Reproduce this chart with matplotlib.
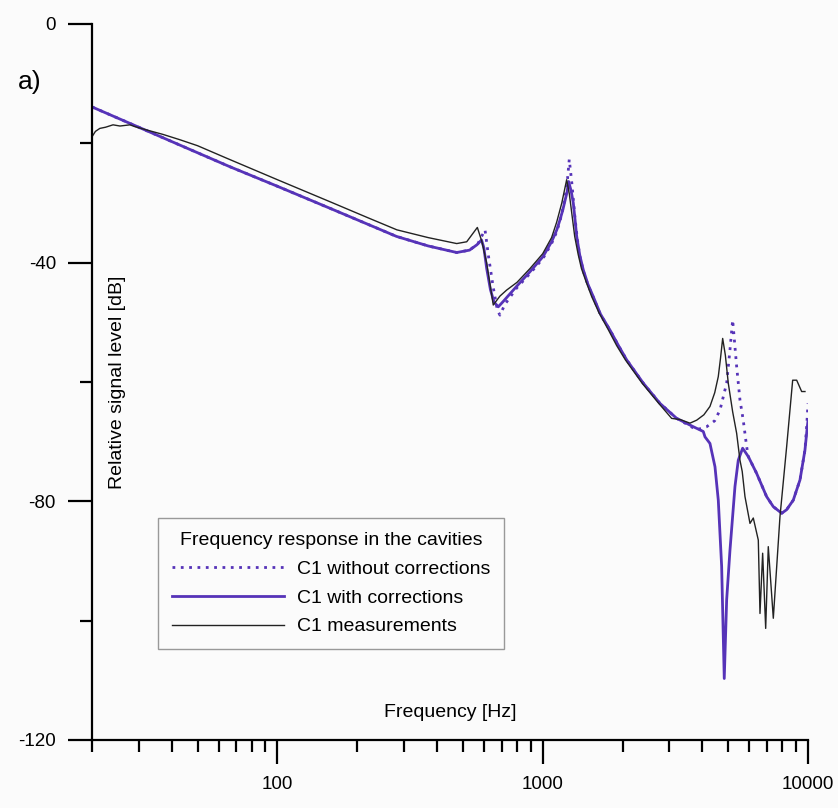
import matplotlib
matplotlib.use("Agg")
import matplotlib.pyplot as plt
from matplotlib.ticker import FixedLocator, NullFormatter

plt.rcParams["font.family"] = ["Liberation Sans", "DejaVu Sans"]

# C1 with corrections (solid)
f_corr = [20, 30, 45, 66, 100, 158, 220, 281, 370, 474, 530, 565, 588, 600, 615, 635, 655, 680,
          710, 750, 796, 896, 1002, 1080, 1130, 1162, 1190, 1215, 1235, 1252, 1280, 1304, 1324,
          1343, 1380, 1422, 1480, 1551, 1650, 1793, 1930, 2073, 2394, 2768, 3199, 3696, 4030,
          4090, 4270, 4460, 4590, 4726, 4834, 4936, 5080, 5306, 5460, 5670, 5956, 6400, 6980,
          7400, 7960, 8310, 8800, 9330, 9740, 9940, 10000]
db_corr = [-13.9, -17.3, -20.7, -23.9, -27.2, -30.9, -33.6, -35.6, -37.2, -38.3, -37.9, -37.0,
           -36.2, -37.5, -41.0, -44.5, -46.6, -47.4, -46.5, -45.3, -44.0, -41.5, -39.0, -36.5,
           -34.5, -32.8, -31.2, -29.5, -28.2, -26.4, -28.0, -30.0, -32.8, -35.6, -38.8, -41.2,
           -43.6, -45.7, -48.6, -51.3, -53.9, -56.3, -60.2, -63.6, -66.1, -67.5, -68.3, -69.2,
           -70.3, -74.2, -79.8, -90.9, -109.7, -96.5, -88.2, -77.5, -73.1, -71.1, -72.5, -75.3,
           -79.2, -80.9, -82.0, -81.4, -79.8, -76.4, -71.4, -67.5, -66.5]

# C1 without corrections (dotted)
f_nocorr = [20, 30, 45, 66, 100, 158, 220, 281, 370, 474, 530, 570, 606, 625, 650, 675, 690,
            720, 796, 896, 1002, 1080, 1130, 1162, 1190, 1215, 1240, 1259, 1290, 1320, 1350,
            1380, 1422, 1480, 1551, 1650, 1793, 1930, 2073, 2394, 2768, 3199, 3696, 3806, 4150,
            4450, 4658, 4936, 5080, 5200, 5383, 5540, 5700, 5870, 5956, 6400, 6980, 7400, 7960,
            8310, 8800, 9330, 9740, 9900, 10000]
db_nocorr = [-13.9, -17.3, -20.7, -23.9, -27.2, -30.9, -33.6, -35.6, -37.2, -38.3, -37.9, -36.8,
             -34.5, -39.0, -44.0, -48.0, -48.8, -47.0, -44.3, -41.8, -39.3, -36.8, -34.8, -33.0,
             -31.0, -29.0, -26.0, -22.7, -27.0, -32.0, -36.0, -38.9, -41.4, -43.7, -45.8, -48.7,
             -51.3, -53.9, -56.3, -60.2, -63.6, -66.1, -67.7, -68.0, -67.5, -66.5, -64.7, -60.2,
             -54.6, -49.6, -57.4, -63.0, -66.4, -70.8, -72.5, -75.3, -79.2, -80.9, -82.0, -81.4,
             -79.8, -76.4, -71.4, -67.0, -63.6]

# C1 measurements (thin black)
f_meas = [20, 20.6, 21.4, 22.5, 24.0, 25.5, 27.8, 29.0, 33, 37, 42.9, 50, 64.4, 100, 158, 220,
          282, 370, 474, 517, 567, 590, 615, 651, 690, 731, 800, 895, 1000, 1080, 1129, 1180,
          1231, 1260, 1285, 1320, 1360, 1400, 1460, 1530, 1630, 1770, 1900, 2050, 2370, 2740,
          3062, 3300, 3590, 3806, 4050, 4270, 4450, 4590, 4680, 4768, 4880, 5006, 5200, 5383,
          5540, 5650, 5786, 6044, 6220, 6496, 6592, 6746, 6926, 7084, 7400, 7840, 8310, 8754,
          9064, 9464, 9740]
db_meas = [-18.9, -18.0, -17.5, -17.3, -16.9, -17.1, -16.9, -17.2, -17.9, -18.5, -19.4, -20.4,
           -22.5, -26.1, -29.8, -32.5, -34.5, -35.8, -36.8, -36.5, -34.1, -36.5, -40.1, -47.1,
           -45.6, -44.6, -43.3, -41.0, -38.5, -35.8, -33.2, -30.0, -26.1, -28.5, -31.5, -35.6,
           -38.6, -41.0, -43.3, -45.7, -48.4, -51.3, -53.9, -56.3, -60.2, -63.6, -66.1, -66.3,
           -66.9, -66.4, -65.5, -64.1, -61.8, -59.1, -56.0, -52.7, -55.5, -60.2, -65.0, -68.6,
           -73.1, -75.0, -79.2, -83.7, -82.8, -86.5, -98.8, -88.7, -101.3, -87.6, -99.6, -82.6,
           -70.8, -59.7, -59.7, -61.6, -61.6]

x_major = [100, 1000, 10000]
x_minor = [20, 30, 40, 50, 60, 70, 80, 90, 200, 300, 400, 500, 600, 700, 800, 900,
           2000, 3000, 4000, 5000, 6000, 7000, 8000, 9000]
y_major = [0, -40, -80, -120]
y_minor = [-20, -60, -100]

purple = "#5633b8"
bg = "#fbfbfb"

fig = plt.figure(figsize=(8.38, 8.08), dpi=100, facecolor=bg)
ax = fig.add_axes([0.1098, 0.0842, 0.8544, 0.8861], facecolor=bg)

ax.plot(f_nocorr, db_nocorr, color=purple, lw=2.0, linestyle=(0, (1, 2)),
        label="C1 without corrections")
ax.plot(f_corr, db_corr, color=purple, lw=2.0, label="C1 with corrections")
ax.plot(f_meas, db_meas, color="#222222", lw=1.0, label="C1 measurements")

ax.set_xscale("log")
ax.set_xlim(20, 10000)
ax.set_ylim(-120, 0)

ax.spines["top"].set_visible(False)
ax.spines["right"].set_visible(False)
ax.spines["left"].set_linewidth(1.6)
ax.spines["bottom"].set_linewidth(1.6)

ax.xaxis.set_major_locator(FixedLocator(x_major))
ax.xaxis.set_minor_locator(FixedLocator(x_minor))
ax.xaxis.set_minor_formatter(NullFormatter())
ax.set_xticklabels([str(v) for v in x_major])
ax.yaxis.set_major_locator(FixedLocator(y_major))
ax.yaxis.set_minor_locator(FixedLocator(y_minor))
ax.set_yticklabels([str(v) for v in y_major])

ax.tick_params(axis="both", which="major", direction="out", length=17, width=1.6,
               labelsize=13.5, pad=9, color="black")
ax.tick_params(axis="both", which="minor", direction="out", length=8.5, width=1.6)

ax.text(0.5, 0.038, "Frequency [Hz]", transform=ax.transAxes, ha="center", va="center",
        fontsize=14)
ax.text(0.036, 0.5, "Relative signal level [dB]", transform=ax.transAxes, rotation=90,
        ha="center", va="center", fontsize=14)
fig.text(0.021, 1 - 82 / 808, "a)", fontsize=19, ha="left", va="center")

leg = ax.legend(title="Frequency response in the cavities", loc="lower left",
                bbox_to_anchor=(0.0922, 0.127), borderaxespad=0, fontsize=14,
                title_fontsize=14, handlelength=5.8, handletextpad=0.65,
                labelspacing=0.58, borderpad=0.7, fancybox=False, framealpha=1)
leg.get_frame().set_edgecolor("#999999")
leg.get_frame().set_linewidth(1.0)
leg.get_frame().set_facecolor(bg)

fig.savefig("out.png", dpi=100, facecolor=bg)
